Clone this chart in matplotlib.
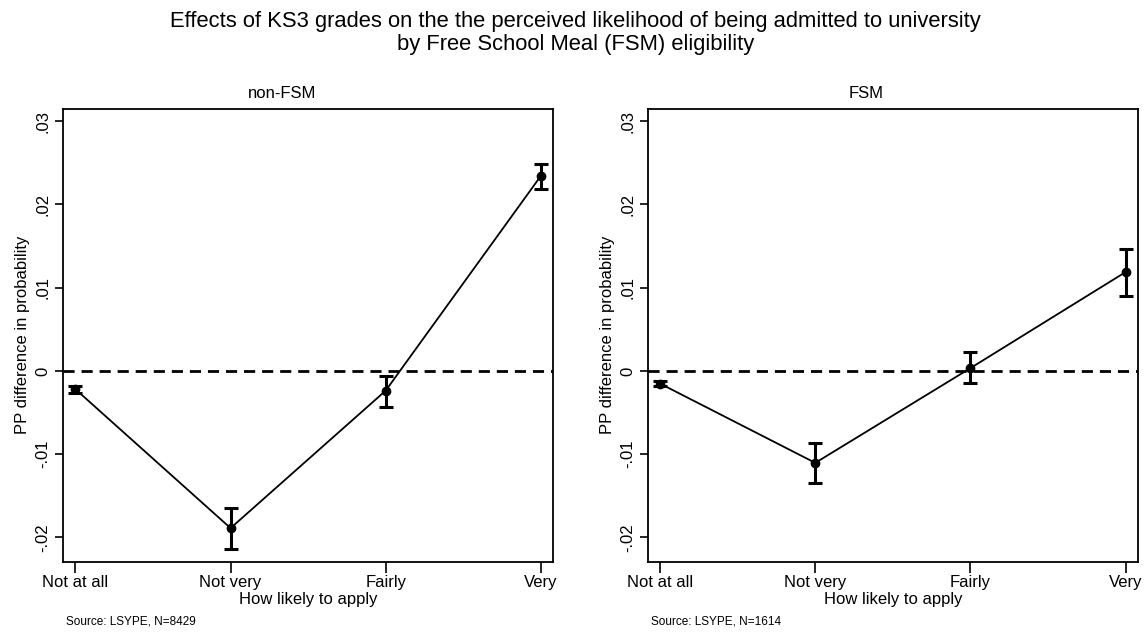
import matplotlib.pyplot as plt

plt.rcParams['font.family'] = ['Liberation Sans', 'DejaVu Sans']

# categories on the x axis
categories = ['Not at all', 'Not very', 'Fairly', 'Very']

# non-FSM: point estimate and 95% CI bounds
nonfsm_est = [-0.00219, -0.01888, -0.00236, 0.02343]
nonfsm_lo = [-0.00265, -0.02136, -0.00430, 0.02183]
nonfsm_hi = [-0.00177, -0.01643, -0.00059, 0.02486]

# FSM
fsm_est = [-0.00152, -0.01104, 0.00034, 0.01188]
fsm_lo = [-0.00185, -0.01340, -0.00143, 0.00897]
fsm_hi = [-0.00118, -0.00864, 0.00223, 0.01470]

ytick_vals = [-0.02, -0.01, 0, 0.01, 0.02, 0.03]
ytick_labels = ['-.02', '-.01', '0', '.01', '.02', '.03']

panels = [
    ('non-FSM', nonfsm_est, nonfsm_lo, nonfsm_hi, 'Source: LSYPE, N=8429'),
    ('FSM', fsm_est, fsm_lo, fsm_hi, 'Source: LSYPE, N=1614'),
]

fig = plt.figure(figsize=(11.44, 6.32), dpi=100)
fig.text(0.503, 0.966, 'Effects of KS3 grades on the the perceived likelihood of being admitted to university',
         ha='center', va='center', fontsize=15.8)
fig.text(0.503, 0.929, 'by Free School Meal (FSM) eligibility', ha='center', va='center', fontsize=15.8)

lefts = [0.0551, 0.5662]
for (title, est, lo, hi, src), left in zip(panels, lefts):
    ax = fig.add_axes([left, 0.1114, 0.4285, 0.7165])
    x = list(range(len(categories)))
    yerr = [[e - l for e, l in zip(est, lo)], [h - e for e, h in zip(est, hi)]]
    ax.axhline(0, color='black', lw=2, ls=(0, (4, 2.5)), zorder=1)
    ax.plot(x, est, color='black', lw=1.3, zorder=2)
    ax.errorbar(x, est, yerr=yerr, fmt='o', color='black', ms=6,
                elinewidth=2.2, capsize=5, capthick=2.2, zorder=3)
    ax.set_xlim(-0.08, 3.08)
    ax.set_ylim(-0.0229, 0.0315)
    ax.set_xticks(x)
    ax.set_xticklabels(categories, fontsize=12)
    ax.set_yticks(ytick_vals)
    ax.set_yticklabels(ytick_labels, fontsize=12, rotation=90, va='center')
    ax.tick_params(axis='y', length=6, width=1.2, pad=3)
    ax.tick_params(axis='x', length=8, width=1.2, pad=2)
    ax.set_xlabel('How likely to apply', fontsize=12, labelpad=1)
    ax.set_ylabel('PP difference in probability', fontsize=12, labelpad=4)
    ax.set_title(title, x=0.446, fontsize=12, pad=8)
    for sp in ax.spines.values():
        sp.set_linewidth(1.3)
    ax.text(0.006, -0.133, src, transform=ax.transAxes, fontsize=8.5, ha='left', va='center')

fig.savefig('out.png', dpi=100)
